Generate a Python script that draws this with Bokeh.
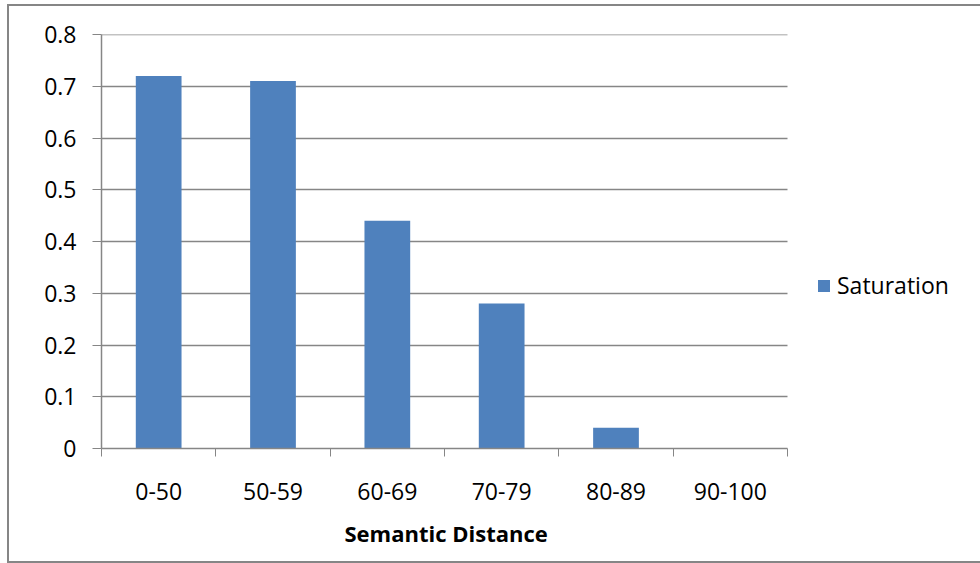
from bokeh.plotting import figure
from bokeh.models import ColumnDataSource, Range1d, FixedTicker, Legend, LegendItem, Title
from bokeh.embed import file_html
from bokeh.resources import INLINE

# ---- data ----
categories = ["0-50", "50-59", "60-69", "70-79", "80-89", "90-100"]
saturation = [0.72, 0.71, 0.44, 0.28, 0.04, 0.0]
y_ticks = [0, 0.1, 0.2, 0.3, 0.4, 0.5, 0.6, 0.7, 0.8]
y_labels = ["0", "0.1", "0.2", "0.3", "0.4", "0.5", "0.6", "0.7", "0.8"]
series_name = "Saturation"
x_title = "Semantic Distance"

n = len(categories)
centers = [i + 0.5 for i in range(n)]
bounds = list(range(n + 1))

FONT = "Open Sans"
GRAY = "#868686"
BLUE = "#4F81BD"

# layout (pixels, relative to the figure canvas placed at (9, 6) in the window)
W, H = 971, 555
LEFT, TOP, BOTTOM = 92, 28, 113
PLOT_W = 686                      # width of the category area
FRAME_W = W - LEFT                # frame also holds the legend region
x_end = n * FRAME_W / PLOT_W

p = figure(width=W, height=H, output_backend="svg", toolbar_location=None,
           x_range=Range1d(0, x_end), y_range=Range1d(0, 0.80001),
           min_border_left=LEFT, min_border_right=0, min_border_top=TOP,
           min_border_bottom=BOTTOM, background_fill_color="white",
           border_fill_color="white", margin=(6, 0, 0, 9),
           styles={"box-shadow": "-2px 0 0 0 %s, 0 -2px 0 0 %s, 0 2px 0 0 %s, "
                                 "-2px -2px 0 0 %s, -2px 2px 0 0 %s" % ((GRAY,) * 5)})
p.outline_line_color = None

src = ColumnDataSource(dict(x=centers, top=saturation, cat=categories))
r = p.vbar(x="x", top="top", width=0.4, source=src, fill_color=BLUE, line_color=None)

# x axis
xa = p.xaxis[0]
xa.bounds = (0, n)
xa.ticker = FixedTicker(ticks=centers, minor_ticks=bounds)
xa.major_label_overrides = {c: lab for c, lab in zip(centers, categories)}
xa.major_tick_out = 0
xa.major_tick_in = 0
xa.minor_tick_out = 8
xa.minor_tick_in = 0
xa.minor_tick_line_color = GRAY
xa.axis_line_color = GRAY
xa.axis_line_width = 1.5
xa.major_label_standoff = 26
xa.major_label_text_font = FONT
xa.major_label_text_font_size = "23px"
xa.major_label_text_color = "black"

# x axis title, centred under the category area
xt = Title(text=x_title, align="left", offset=243, standoff=27,
           text_font=FONT, text_font_style="bold", text_font_size="22px",
           text_color="black")
p.add_layout(xt, "below")

# y axis
ya = p.yaxis[0]
ya.ticker = FixedTicker(ticks=y_ticks)
ya.major_label_overrides = {t: lab for t, lab in zip(y_ticks, y_labels)}
ya.major_tick_out = 9
ya.major_tick_in = 0
ya.minor_tick_out = 0
ya.minor_tick_in = 0
ya.major_tick_line_color = GRAY
ya.axis_line_color = GRAY
ya.axis_line_width = 1.5
ya.major_label_standoff = 16
ya.major_label_text_font = FONT
ya.major_label_text_font_size = "23px"
ya.major_label_text_color = "black"

p.xgrid.visible = False
p.ygrid.ticker = FixedTicker(ticks=y_ticks)
p.ygrid.cross_bounds = (0, n)
p.ygrid.grid_line_color = GRAY
p.ygrid.grid_line_width = 1.5

legend = Legend(items=[LegendItem(label=series_name, renderers=[r])],
                location=(715, 147), padding=0, margin=0,
                border_line_color=None, background_fill_alpha=0,
                glyph_width=15, glyph_height=15, label_standoff=6,
                label_text_font=FONT, label_text_font_size="23px",
                label_text_color="black")
p.add_layout(legend, "center")

open("out.html", "w").write(file_html(p, INLINE))
